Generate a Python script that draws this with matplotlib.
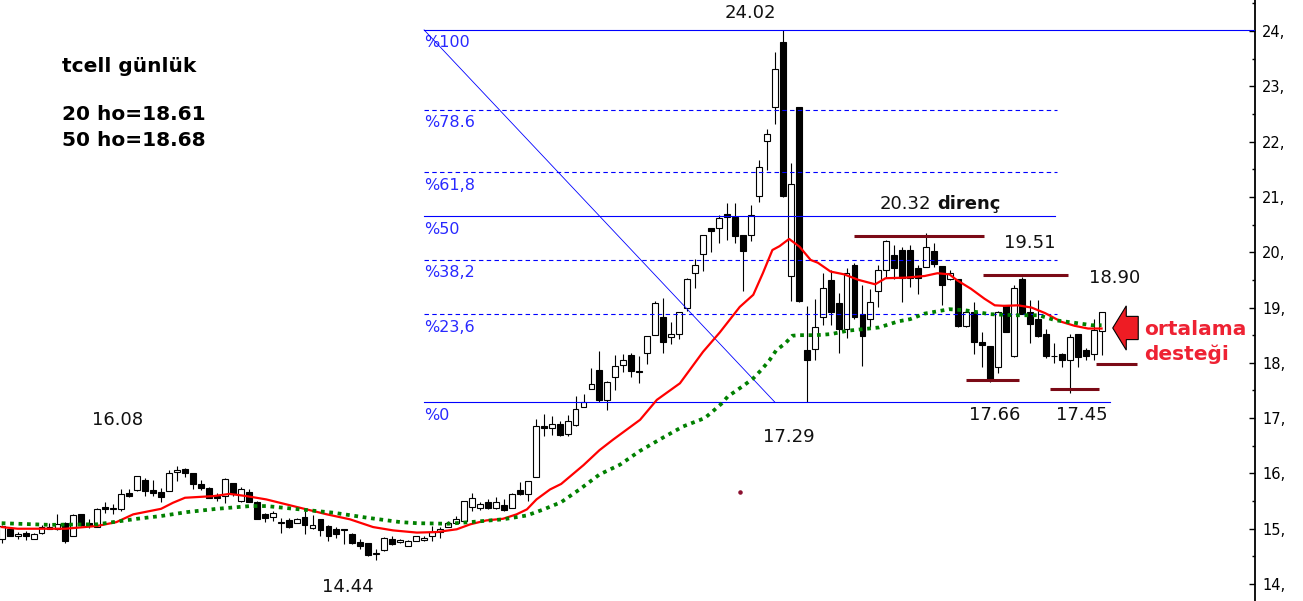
import matplotlib
matplotlib.use("Agg")
import matplotlib.pyplot as plt
import matplotlib.patches as mpatches
import numpy as np

# günlük mumlar (OHLC), index 0..138
opens = [14.81, 14.99, 14.87, 14.93, 14.82, 14.93, 15.04, 14.99, 15.11, 14.87,
         15.26, 15.10, 15.04, 15.40, 15.36, 15.36, 15.65, 15.70, 15.89, 15.70,
         15.66, 15.69, 16.03, 16.08, 16.00, 15.80, 15.74, 15.59, 15.59, 15.82,
         15.50, 15.67, 15.49, 15.26, 15.22, 15.11, 15.16, 15.11, 15.22, 15.01,
         15.17, 15.05, 15.00, 14.99, 14.91, 14.76, 14.74, 14.54, 14.61, 14.82,
         14.76, 14.69, 14.78, 14.79, 14.86, 14.94, 15.04, 15.11, 15.14, 15.40,
         15.38, 15.48, 15.38, 15.43, 15.38, 15.70, 15.62, 15.94, 16.85, 16.82,
         16.90, 16.72, 16.88, 17.21, 17.52, 17.87, 17.33, 17.74, 17.96, 18.14,
         17.86, 18.17, 18.50, 18.83, 18.46, 18.53, 18.99, 19.63, 19.96, 20.43,
         20.43, 20.70, 20.64, 20.31, 20.32, 21.01, 22.01, 22.62, 23.80, 19.57,
         22.63, 18.23, 18.25, 18.82, 19.50, 19.09, 18.62, 19.77, 18.89, 18.79,
         19.29, 19.68, 19.95, 20.04, 20.04, 19.72, 19.74, 20.02, 19.75, 19.51,
         19.51, 18.67, 18.92, 18.37, 18.31, 17.93, 19.04, 18.12, 19.51, 18.92,
         18.80, 18.53, 18.13, 18.16, 18.05, 18.52, 18.23, 18.16, 18.57]
highs = [15.06, 15.00, 14.94, 14.96, 14.93, 15.06, 15.11, 15.26, 15.13, 15.26,
         15.27, 15.17, 15.37, 15.49, 15.44, 15.71, 15.72, 15.96, 15.91, 15.89,
         15.74, 16.07, 16.13, 16.09, 16.01, 15.89, 15.75, 15.65, 15.91, 15.83,
         15.76, 15.72, 15.50, 15.29, 15.32, 15.20, 15.19, 15.20, 15.32, 15.25,
         15.18, 15.06, 15.04, 15.00, 14.93, 14.81, 14.75, 14.63, 14.85, 14.87,
         14.82, 14.80, 14.87, 14.86, 15.05, 15.04, 15.14, 15.23, 15.50, 15.64,
         15.48, 15.53, 15.57, 15.53, 15.65, 15.84, 15.86, 16.98, 17.07, 17.03,
         16.95, 17.05, 17.40, 17.44, 17.90, 18.22, 17.67, 18.14, 18.16, 18.17,
         18.12, 18.49, 19.12, 19.18, 18.73, 18.92, 19.53, 19.87, 20.32, 20.43,
         20.68, 20.89, 20.89, 20.32, 20.86, 21.66, 22.22, 23.62, 24.02, 21.62,
         22.63, 19.03, 19.15, 19.63, 19.68, 19.26, 19.71, 19.80, 19.40, 19.33,
         19.77, 20.22, 20.13, 20.10, 20.13, 19.77, 20.34, 20.17, 19.75, 19.68,
         19.51, 18.94, 19.10, 18.56, 18.31, 18.93, 19.05, 19.40, 19.55, 19.13,
         19.13, 18.62, 18.35, 18.17, 18.53, 18.53, 18.26, 18.80, 18.92]
lows = [14.74, 14.86, 14.81, 14.80, 14.81, 14.91, 14.99, 14.98, 14.75, 14.86,
        15.05, 15.02, 15.03, 15.29, 15.26, 15.32, 15.58, 15.69, 15.59, 15.59,
        15.48, 15.68, 15.86, 15.94, 15.72, 15.70, 15.55, 15.50, 15.46, 15.59,
        15.49, 15.48, 15.17, 15.13, 15.14, 14.93, 15.01, 15.10, 14.90, 15.00,
        14.86, 14.78, 14.84, 14.72, 14.72, 14.63, 14.50, 14.44, 14.60, 14.71,
        14.74, 14.68, 14.77, 14.78, 14.78, 14.84, 15.03, 15.08, 15.12, 15.32,
        15.34, 15.36, 15.35, 15.32, 15.38, 15.61, 15.50, 15.94, 16.67, 16.70,
        16.68, 16.68, 16.85, 17.20, 17.52, 17.30, 17.15, 17.50, 17.84, 17.75,
        17.64, 17.97, 18.50, 18.17, 18.34, 18.43, 18.94, 19.36, 19.66, 20.01,
        20.16, 20.22, 20.16, 19.29, 20.20, 20.91, 21.48, 22.32, 21.00, 19.12,
        19.10, 17.29, 18.05, 18.68, 18.68, 18.17, 18.44, 18.80, 17.95, 18.65,
        19.01, 19.53, 19.51, 19.10, 19.38, 19.24, 19.73, 19.73, 19.04, 19.49,
        18.64, 18.65, 18.16, 17.93, 17.66, 17.81, 18.55, 18.10, 18.89, 18.35,
        18.47, 18.09, 17.99, 17.93, 17.45, 17.93, 18.05, 18.05, 18.14]
closes = [15.05, 14.87, 14.90, 14.86, 14.91, 15.03, 15.00, 15.08, 14.78, 15.24,
          15.06, 15.05, 15.36, 15.36, 15.36, 15.63, 15.59, 15.95, 15.68, 15.65,
          15.58, 16.01, 16.06, 16.00, 15.80, 15.74, 15.56, 15.56, 15.90, 15.63,
          15.71, 15.49, 15.18, 15.19, 15.29, 15.11, 15.03, 15.17, 15.06, 15.06,
          14.98, 14.86, 14.91, 14.97, 14.75, 14.68, 14.53, 14.55, 14.84, 14.73,
          14.79, 14.78, 14.86, 14.84, 14.94, 14.99, 15.10, 15.18, 15.50, 15.56,
          15.45, 15.38, 15.48, 15.33, 15.63, 15.62, 15.86, 16.85, 16.83, 16.90,
          16.70, 16.95, 17.17, 17.30, 17.61, 17.33, 17.66, 17.94, 18.05, 17.86,
          17.83, 18.49, 19.09, 18.38, 18.52, 18.92, 19.52, 19.77, 20.32, 20.38,
          20.61, 20.64, 20.29, 20.02, 20.67, 21.55, 22.14, 23.31, 21.01, 21.23,
          19.11, 18.05, 18.64, 19.36, 18.92, 18.62, 19.63, 18.82, 18.49, 19.10,
          19.68, 20.20, 19.72, 19.54, 19.54, 19.54, 20.10, 19.78, 19.41, 19.63,
          18.66, 18.92, 18.37, 18.33, 17.71, 18.92, 18.56, 19.36, 18.89, 18.71,
          18.49, 18.13, 18.12, 18.05, 18.46, 18.10, 18.13, 18.59, 18.92]

# 20 günlük ortalama (okunan noktalar)
ma20_x = [0, 2, 8, 12, 14.4, 16.5, 20, 21.5, 23, 26.6, 28.6, 30.7, 33.2, 37.4, 40.8,
          43.7, 46.6, 49.1, 52.1, 54.6, 57.1, 58.8, 60.8, 62.9, 64.6, 65.9, 67.1,
          68.8, 70.2, 73, 75, 76.7, 80.1, 82.2, 85.1, 88.0, 90.1, 92.6, 94.3, 95.5,
          96.7, 97.6, 98.8, 100.1, 101.5, 102.4, 104.0, 105.7, 107.5, 109.6, 110.9,
          113.4, 115.8, 117.4, 118.9, 119.9, 121.6, 123.3, 124.6, 125.8, 127.5,
          129.2, 130.9, 133.0, 134.6, 136.3, 138]
ma20_y = [15.03, 15.00, 15.00, 15.05, 15.12, 15.26, 15.36, 15.47, 15.56, 15.59, 15.63,
          15.59, 15.53, 15.38, 15.26, 15.17, 15.03, 14.97, 14.93, 14.94, 14.99, 15.08,
          15.15, 15.18, 15.26, 15.35, 15.53, 15.71, 15.81, 16.15, 16.42, 16.61, 16.97,
          17.33, 17.63, 18.20, 18.55, 19.01, 19.23, 19.62, 20.04, 20.11, 20.24, 20.10,
          19.86, 19.81, 19.65, 19.60, 19.50, 19.42, 19.53, 19.54, 19.57, 19.62, 19.60,
          19.49, 19.34, 19.16, 19.04, 19.03, 19.04, 19.00, 18.90, 18.74, 18.67, 18.62,
          18.62]

# 50 günlük ortalama (okunan noktalar)
ma50_x = [0, 6, 12, 14, 17, 20, 23.2, 27, 31.2, 33.2, 37.4, 41.6, 45.8, 50, 52.1, 56,
          58.8, 62.9, 65.9, 68, 70.2, 72.5, 75, 77.6, 80, 83, 85.5, 88.2, 89.2, 90.3,
          91.1, 92.2, 93.2, 94.3, 95.3, 96.3, 97.2, 98.3, 99.2, 100.1, 102.2, 104.1,
          106.1, 108.8, 110.1, 112.5, 114.0, 115.8, 118.9, 120.9, 124.0, 127.1, 130.1,
          132.2, 134.3, 136.8, 138]
ma50_y = [15.10, 15.07, 15.08, 15.12, 15.18, 15.23, 15.30, 15.36, 15.41, 15.41, 15.35,
          15.29, 15.20, 15.12, 15.10, 15.09, 15.12, 15.17, 15.24, 15.35, 15.48, 15.71,
          15.98, 16.16, 16.40, 16.65, 16.85, 17.00, 17.12, 17.26, 17.39, 17.50, 17.60,
          17.72, 17.87, 18.04, 18.23, 18.35, 18.49, 18.50, 18.50, 18.52, 18.58, 18.62,
          18.64, 18.75, 18.79, 18.89, 18.97, 18.95, 18.88, 18.86, 18.86, 18.77, 18.73,
          18.68, 18.68]

# fibonacci
fib_high, fib_low = 24.02, 17.29
fib_ratios = [1.0, 0.786, 0.618, 0.5, 0.382, 0.236, 0.0]
fib_labels = ["%100", "%78.6", "%61,8", "%50", "%38,2", "%23,6", "%0"]
fib_styles = ["-", "--", "--", "-", "--", "--", "-"]
fib_start = 53.0
fib_ends = [157.3, 132.4, 132.4, 132.2, 132.4, 132.4, 139.1]

# destek / direnç çizgileri: (başlangıç, bitiş, seviye)
sr_lines = [(107.0, 123.3, 20.29), (123.1, 133.8, 19.59), (121.0, 127.6, 17.69),
            (131.5, 137.7, 17.53), (137.3, 142.4, 17.98)]

price_notes = [("24.02", 93.9, 24.32), ("17.29", 98.7, 16.65), ("16.08", 14.5, 16.97),
               ("14.44", 43.4, 13.95), ("19.51", 129.0, 20.16), ("18.90", 139.6, 19.53),
               ("17.66", 124.6, 17.06), ("17.45", 135.5, 17.06)]

fig = plt.figure(figsize=(13.03, 6.01), dpi=100)
fig.patch.set_facecolor("white")
ax = fig.add_axes([0, 0, 1255 / 1303, 1])
ax.set_xlim(-0.21, 157.25)
ax.set_ylim(13.693, 24.561)

idx = np.arange(len(opens))
o = np.array(opens); h = np.array(highs); l = np.array(lows); c = np.array(closes)
up = c >= o
ax.vlines(idx, l, h, color="black", linewidth=0.8, zorder=2)
bottoms = np.minimum(o, c)
heights = np.maximum(np.abs(c - o), 0.012)
ax.bar(idx, heights, bottom=bottoms, width=0.74,
       color=np.where(up, "white", "black"), edgecolor="black", linewidth=0.8, zorder=3)

# fib seviyeleri
for r, lab, ls, xe in zip(fib_ratios, fib_labels, fib_styles, fib_ends):
    lvl = fib_low + (fib_high - fib_low) * r
    ax.plot([fib_start, xe], [lvl, lvl], color="#0000ff", linewidth=0.8,
            linestyle=ls, dashes=(4, 3) if ls == "--" else (None, None), zorder=3.5)
    ax.annotate(lab, (fib_start, lvl), xytext=(0, -4), textcoords="offset points",
                va="top", ha="left", fontsize=11.5, color="#2929ff")
ax.plot([fib_start, 97.0], [fib_high, fib_low], color="#0000ff", linewidth=0.6, zorder=3.5)

# ortalamalar
ax.plot(ma20_x, ma20_y, color="#ff0000", linewidth=1.6, zorder=4)
ax.plot(ma50_x, ma50_y, color="#008000", linewidth=2.7, linestyle=(0, (1, 1.25)),
        dash_capstyle="butt", zorder=4)

for x0, x1, lvl in sr_lines:
    ax.plot([x0, x1], [lvl, lvl], color="#7b0a16", linewidth=2.2,
            solid_capstyle="butt", zorder=5)

for txt, x, y in price_notes:
    ax.text(x, y, txt, ha="center", va="center", fontsize=13, color="#111111")
ax.text(110.2, 20.88, "20.32", ha="left", va="center", fontsize=13, color="#111111")
ax.text(117.4, 20.88, "direnç", ha="left", va="center", fontsize=13,
        fontweight="bold", color="#111111")

ax.text(7.6, 23.35, "tcell günlük", ha="left", va="center", fontsize=14.5, fontweight="bold")
ax.text(7.6, 22.49, "20 ho=18.61", ha="left", va="center", fontsize=14.5, fontweight="bold")
ax.text(7.6, 22.02, "50 ho=18.68", ha="left", va="center", fontsize=14.5, fontweight="bold")

# ortalama desteği oku
arrow = mpatches.FancyArrow(142.6, 18.63, -3.2, 0, width=0.42, head_width=0.80,
                            head_length=1.7, length_includes_head=True,
                            facecolor="#ee1c24", edgecolor="black", linewidth=0.8, zorder=6)
ax.add_patch(arrow)
ax.text(143.4, 18.60, "ortalama", ha="left", va="center", fontsize=14.5,
        fontweight="bold", color="#ee2233")
ax.text(143.4, 18.16, "desteği", ha="left", va="center", fontsize=14.5,
        fontweight="bold", color="#ee2233")

ax.scatter([92.6], [15.66], s=5, color="#8b1030", zorder=5)

# eksen
for side in ["left", "top", "bottom"]:
    ax.spines[side].set_visible(False)
ax.spines["right"].set_linewidth(1.3)
ax.set_xticks([])
ax.yaxis.tick_right()
yt = np.arange(14, 25)
ax.set_yticks(yt)
ax.set_yticklabels([f"{v}," for v in yt], fontsize=10.5)
ax.set_yticks(np.arange(14.5, 25, 1.0), minor=True)
ax.tick_params(axis="y", which="major", direction="in", length=4, width=1, pad=5)
ax.tick_params(axis="y", which="minor", direction="in", length=2.5, width=1)
for t in ax.get_yticklabels():
    t.set_clip_on(False)

fig.savefig("out.png", dpi=100, facecolor="white")
